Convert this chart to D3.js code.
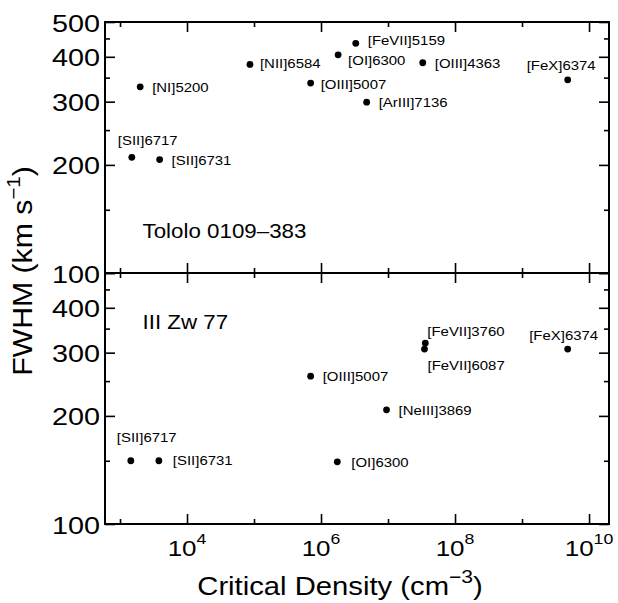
<!DOCTYPE html>
<html><head><meta charset="utf-8">
<script src="https://cdn.jsdelivr.net/npm/d3@7"></script>
<style>
body{margin:0;background:#fff}
text{font-family:"Liberation Sans",Arial,Helvetica,sans-serif;fill:#000}
</style></head>
<body>
<svg id="chart" width="618" height="603"></svg>
<script>
// ---------- data ----------
const topLines   = ["[SII]6717","[SII]6731","[NI]5200","[NII]6584","[OIII]5007","[OI]6300","[FeVII]5159","[OIII]4363","[ArIII]7136","[FeX]6374"];
const topDensity = [1.5e3, 3.9e3, 2.0e3, 8.7e4, 7.0e5, 1.8e6, 3.3e6, 3.3e7, 4.8e6, 4.8e9];
const topFwhm    = [210, 207, 330, 381, 338, 405, 436, 385, 299, 345];

const bottomLines   = ["[SII]6717","[SII]6731","[OIII]5007","[OI]6300","[NeIII]3869","[FeVII]3760","[FeVII]6087","[FeX]6374"];
const bottomDensity = [1.45e3, 3.8e3, 7.0e5, 1.75e6, 9.5e6, 3.6e7, 3.5e7, 4.8e9];
const bottomFwhm    = [150, 150, 258, 149, 208, 319, 307, 307];

const panelNames = ["Tololo 0109\u2013383", "III Zw 77"];

const xMajorTicks = [1e4, 1e6, 1e8, 1e10];
const xMinorTicks = [1e3, 1e5, 1e7, 1e9];
const xTickExponents = ["4", "6", "8", "10"];
const yMajorTicks = [100, 200, 300, 400, 500];
const yMinorTicks = [150, 250, 350, 450];
const topYLabels = ["100","200","300","400","500"];
const bottomYLabels = ["100","200","300","400"];

const xTitle = "Critical Density (cm";
const xTitleSup = "\u22123";
const yTitle = "FWHM (km s";
const yTitleSup = "\u22121";

// ---------- layout (not data) ----------
const L = 105, R = 609, T = 22, M = 273, B = 524;
const labelOffsets = {
  top: {
    "[SII]6717":[-14,-12], "[SII]6731":[12,5], "[NI]5200":[12,5], "[NII]6584":[10,4],
    "[OIII]5007":[10,5.5], "[OI]6300":[10,10.5], "[FeVII]5159":[12,1.5], "[OIII]4363":[12,5],
    "[ArIII]7136":[12,5], "[FeX]6374":[-41,-9.5]
  },
  bottom: {
    "[SII]6717":[-14,-18.5], "[SII]6731":[14,4], "[OIII]5007":[12,4.7], "[OI]6300":[14,4.7],
    "[NeIII]3869":[12,5], "[FeVII]3760":[2,-7.3], "[FeVII]6087":[3,20.7], "[FeX]6374":[-38.5,-9.3]
  }
};

const svg = d3.select("#chart");
const x = d3.scaleLog().domain([Math.pow(10,2.776), Math.pow(10,10.298)]).range([L, R]);
const yTop = d3.scaleLog().domain([100, 500]).range([M, T]);
const yBot = d3.scaleLog().domain([100, 500]).range([B, M]);

function stext(parent, px, py, str, size, sx, anchor, rot) {
  const g = parent.append("g").attr("transform", `translate(${px},${py})` + (rot ? ` rotate(${rot})` : ""));
  const t = g.append("text").attr("transform", `scale(${sx},1)`)
    .attr("font-size", size).attr("text-anchor", anchor || "start").text(str);
  return t;
}

function panel(y, lines, dens, fwhm, offs, name, yLabels, nameY) {
  const g = svg.append("g");
  const y0 = y.range()[0], y1 = y.range()[1];
  // ticks via d3 axes (inward)
  const mk = (axisFn, scale, vals, len, tx, ty) => {
    const a = axisFn(scale).tickValues(vals).tickSize(-len).tickFormat("");
    const ag = g.append("g").attr("transform", `translate(${tx},${ty})`).call(a);
    ag.select(".domain").remove();
    ag.selectAll("line").attr("stroke", "#000").attr("stroke-width", 1.6);
  };
  mk(d3.axisTop, x, xMajorTicks, 10, 0, y1);
  mk(d3.axisTop, x, xMinorTicks, 5, 0, y1);
  mk(d3.axisBottom, x, xMajorTicks, 10, 0, y0);
  mk(d3.axisBottom, x, xMinorTicks, 5, 0, y0);
  mk(d3.axisLeft, y, yMajorTicks, 10, L, 0);
  mk(d3.axisLeft, y, yMinorTicks, 5, L, 0);
  mk(d3.axisRight, y, yMajorTicks, 10, R, 0);
  mk(d3.axisRight, y, yMinorTicks, 5, R, 0);
  // frame
  g.append("rect").attr("x", L).attr("y", y1).attr("width", R - L).attr("height", y0 - y1)
    .attr("fill", "none").attr("stroke", "#000").attr("stroke-width", 2);
  // y tick labels
  yLabels.forEach(s => { stext(g, 100, y(+s) + 9.5, s, 24, 1.2, "end"); });
  // points
  const pts = lines.map((n, i) => ({n, d: dens[i], f: fwhm[i]}));
  g.selectAll("circle.pt").data(pts).join("circle").attr("class", "pt")
    .attr("cx", d => x(d.d)).attr("cy", d => y(d.f)).attr("r", 3.4).attr("fill", "#000");
  pts.forEach(d => {
    const o = offs[d.n];
    stext(g, x(d.d) + o[0], y(d.f) + o[1], d.n, 13, 1.15, "start");
  });
  stext(g, 142.5, nameY, name, 20.5, 1.09, "start");
}

panel(yTop, topLines, topDensity, topFwhm, labelOffsets.top, panelNames[0], topYLabels, 237.5);
panel(yBot, bottomLines, bottomDensity, bottomFwhm, labelOffsets.bottom, panelNames[1], bottomYLabels, 328.5);

// x tick labels
xMajorTicks.forEach((v, i) => {
  const g = svg.append("g").attr("transform", `translate(${x(v)},555.5)`);
  const t = g.append("text").attr("transform", "scale(1.18,1)").attr("text-anchor", "middle").attr("font-size", 22);
  t.append("tspan").text("10");
  t.append("tspan").attr("font-size", 15).attr("dy", -11.5).text(xTickExponents[i]);
});

// x title
{
  const g = svg.append("g").attr("transform", "translate(340,595)");
  const t = g.append("text").attr("transform", "scale(1.17,1)").attr("text-anchor", "middle").attr("font-size", 25);
  t.append("tspan").text(xTitle);
  t.append("tspan").attr("font-size", 18).attr("dy", -12).text(xTitleSup);
  t.append("tspan").attr("dy", 12).text(")");
}
// y title
{
  const g = svg.append("g").attr("transform", "translate(32,271) rotate(-90)");
  const t = g.append("text").attr("transform", "scale(1.08,1)").attr("text-anchor", "middle").attr("font-size", 28);
  t.append("tspan").text(yTitle);
  t.append("tspan").attr("font-size", 19).attr("dy", -12).text(yTitleSup);
  t.append("tspan").attr("dy", 12).text(")");
}
</script>
</body></html>
